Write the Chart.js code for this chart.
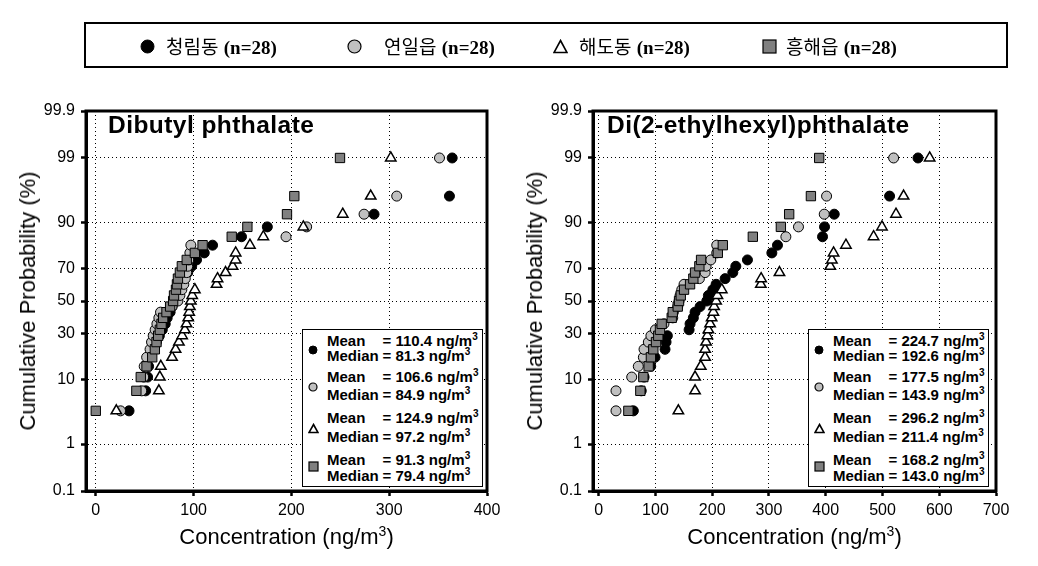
<!DOCTYPE html>
<html lang="ko">
<head>
<meta charset="utf-8">
<title>Phthalate cumulative probability plots</title>
<script src="https://cdn.jsdelivr.net/npm/chart.js@4.4.1/dist/chart.umd.min.js"></script>
<style>
  html, body { margin:0; padding:0; background:#fff; }
  #wrap { position:relative; width:1038px; height:566px; overflow:hidden; font-family: Arial, "Liberation Sans", sans-serif; color:#000; }
  #wrap canvas { position:absolute; top:0; }
  .abs { position:absolute; white-space:nowrap; }
  .legbox { left:84px; top:22px; width:924px; height:46px; border:2.5px solid #000; box-sizing:border-box; }
  .legtxt { font-family:"Noto Sans CJK KR", sans-serif; font-size:19px; line-height:24px; top:34px; }
  .legtxt b { font-family:"Liberation Serif", "Times New Roman", serif; font-weight:bold; font-size:19px; }
  .ptitle { font-weight:bold; font-size:24.5px; line-height:24.5px; letter-spacing:0.45px; top:112.6px; }
  .axtitle { font-size:22px; line-height:22px; }
  .stat { border:1.5px solid #000; background:#fff; box-sizing:border-box; }
  .sline { font-weight:bold; font-size:15px; line-height:16px; }
  .sline .lab { display:inline-block; width:55.5px; }
  .sup { position:relative; top:-6px; font-size:10px; }
</style>
</head>
<body>
<div id="wrap">
  <canvas id="cDBP" width="510" height="566" style="left:0;width:510px;height:566px"></canvas>
  <canvas id="cDEHP" width="528" height="566" style="left:510px;width:528px;height:566px"></canvas>
</div>
<script>
// ---------------- data ----------------
const seriesNames = ['청림동', '연일읍', '해도동', '흥해읍'];
const sampleN = [28, 28, 28, 28];
// cumulative probability (%) plotting positions, rank 1..28
const probLevels = [3.7, 7.2, 10.8, 14.4, 18.0, 21.6, 25.2, 28.6, 32.0, 35.5, 39.2, 42.8, 46.4, 50.0,
                    53.6, 57.3, 60.7, 64.2, 67.8, 71.4, 74.8, 78.3, 81.8, 85.2, 88.6, 92.1, 95.6, 99.0];

// Dibutyl phthalate concentrations (ng/m3), sorted
const dbpCheongrim = [34, 51, 53, 54, 56, 59, 62, 65, 68, 71, 73, 76, 78, 80, 83, 86, 88, 91, 94, 98, 103, 110.9, 119.4, 149, 175.4, 284.5, 361.6, 364.4];
const dbpYeonil    = [25.3, 47, 49, 49.5, 52, 55.5, 57, 58.7, 60.7, 62.5, 64.5, 66.2, 78, 84, 86, 88, 90, 91.5, 93, 94, 95, 96.2, 97.2, 194.5, 215.6, 274.3, 307.7, 351.4];
const dbpHaedo     = [21, 64.5, 65.5, 66.5, 78, 81.6, 85, 88.3, 91.1, 92.8, 94.5, 95.5, 96.2, 97.2, 98.6, 101.3, 123.5, 124.5, 132.7, 139.9, 143, 143, 157.6, 171.3, 212.2, 252.5, 281.1, 301.6];
const dbpHeunghae  = [0, 41.5, 46, 51.9, 57.7, 60.4, 62.1, 63.8, 65.5, 67.2, 68.9, 72.3, 76, 79.1, 80, 82, 83, 84, 86, 88, 93, 101.3, 109.2, 139, 155, 195.5, 203, 249.7];

// Di(2-ethylhexyl)phthalate concentrations (ng/m3), sorted
const dehpCheongrim = [61.1, 75, 80, 91.7, 99.3, 116.9, 118.7, 121, 159.3, 161, 166.8, 169.8, 178.7, 190.5, 193.3, 201.1, 206.9, 222.8, 236.3, 241.6, 262.1, 305.1, 315, 394.4, 397.9, 415, 512.5, 562.6];
const dehpYeonil    = [30.5, 30.5, 58.2, 69.8, 78.7, 79.9, 87.5, 92, 100, 115, 130.5, 131.6, 139.3, 141.6, 143.4, 146.4, 150.4, 177.4, 187.5, 189.2, 197.5, 208, 208, 329.8, 352, 397.4, 401.5, 519.6];
const dehpHaedo     = [140.4, 169.8, 169.8, 179.9, 187.5, 187.5, 189.2, 191.5, 193.3, 196.3, 199, 202.1, 203.4, 206.9, 209.2, 216.9, 285.7, 286.2, 318.5, 408, 410.9, 413.8, 435.6, 484.3, 499.1, 523.8, 537.2, 583.1];
const dehpHeunghae  = [52.3, 73.4, 78.7, 88, 92, 96.3, 101, 105, 108, 111, 128.7, 130.5, 139.3, 141.6, 144.6, 150.4, 161, 166.8, 169.8, 177.4, 180.4, 209.9, 218.7, 271.6, 321, 335.6, 373.9, 388.5];

// summary statistics (ng/m3)
const dbpMean    = [110.4, 106.6, 124.9, 91.3];
const dbpMedian  = [81.3, 84.9, 97.2, 79.4];
const dehpMean   = [224.7, 177.5, 296.2, 168.2];
const dehpMedian = [192.6, 143.9, 211.4, 143.0];

// axes
const yTickProbs  = [0.1, 1, 10, 30, 50, 70, 90, 99, 99.9];
const yTickLabels = ['0.1', '1', '10', '30', '50', '70', '90', '99', '99.9'];
const xTicksDBP   = [0, 100, 200, 300, 400];
const xTicksDEHP  = [0, 100, 200, 300, 400, 500, 600, 700];
const panelTitles = ['Dibutyl phthalate', 'Di(2-ethylhexyl)phthalate'];

// ---------------- helpers ----------------
function probit(p) { // inverse standard normal CDF (Acklam)
  const a = [-3.969683028665376e+01, 2.209460984245205e+02, -2.759285104469687e+02, 1.383577518672690e+02, -3.066479806614716e+01, 2.506628277459239e+00];
  const b = [-5.447609879822406e+01, 1.615858368580409e+02, -1.556989798598866e+02, 6.680131188771972e+01, -1.328068155288572e+01];
  const c = [-7.784894002430293e-03, -3.223964580411365e-01, -2.400758277161838e+00, -2.549732539343734e+00, 4.374664141464968e+00, 2.938163982698783e+00];
  const d = [7.784695709041462e-03, 3.224671290700398e-01, 2.445134137142996e+00, 3.754408661907416e+00];
  const pl = 0.02425, ph = 1 - pl;
  let q, r;
  if (p < pl) {
    q = Math.sqrt(-2 * Math.log(p));
    return (((((c[0]*q+c[1])*q+c[2])*q+c[3])*q+c[4])*q+c[5]) / ((((d[0]*q+d[1])*q+d[2])*q+d[3])*q+1);
  }
  if (p <= ph) {
    q = p - 0.5; r = q * q;
    return (((((a[0]*r+a[1])*r+a[2])*r+a[3])*r+a[4])*r+a[5])*q / (((((b[0]*r+b[1])*r+b[2])*r+b[3])*r+b[4])*r+1);
  }
  q = Math.sqrt(-2 * Math.log(1 - p));
  return -(((((c[0]*q+c[1])*q+c[2])*q+c[3])*q+c[4])*q+c[5]) / ((((d[0]*q+d[1])*q+d[2])*q+d[3])*q+1);
}
const zMin = probit(yTickProbs[0] / 100), zMax = probit(yTickProbs[yTickProbs.length - 1] / 100);

const styles = [
  { pointStyle: 'circle',   pointRadius: 5,   backgroundColor: '#000000', borderColor: '#000', borderWidth: 1,   order: 4 },
  { pointStyle: 'circle',   pointRadius: 5,   backgroundColor: '#c0c0c0', borderColor: '#000', borderWidth: 1,   order: 3 },
  { pointStyle: 'triangle', pointRadius: 6,   backgroundColor: '#ffffff', borderColor: '#000', borderWidth: 1.5, order: 2 },
  { pointStyle: 'rect',     pointRadius: 6.6, backgroundColor: '#808080', borderColor: '#000', borderWidth: 1,   order: 1 }
];

function makeDatasets(seriesList) {
  return seriesList.map((vals, i) => Object.assign({
    label: seriesNames[i],
    data: vals.map((x, k) => ({ x: x, y: probit(probLevels[k] / 100) })),
    showLine: false,
    pointHoverRadius: styles[i].pointRadius
  }, styles[i]));
}

const framePlugin = {
  id: 'frame',
  afterDraw(chart) {
    const { ctx, chartArea: { left, top, right, bottom } } = chart;
    ctx.save();
    ctx.lineWidth = 3;
    ctx.strokeStyle = '#000';
    ctx.strokeRect(left, top, right - left, bottom - top);
    ctx.restore();
  }
};

function makeChart(canvasId, seriesList, xMax, xTicks, yWidth, padRight) {
  const tickFont = { family: 'Arial, "Liberation Sans", sans-serif', size: 16 };
  return new Chart(document.getElementById(canvasId), {
    type: 'scatter',
    data: { datasets: makeDatasets(seriesList) },
    options: {
      responsive: false,
      animation: false,
      layout: { padding: { left: 0, right: padRight, top: 111, bottom: 0 } },
      plugins: { legend: { display: false }, tooltip: { enabled: false } },
      scales: {
        x: {
          type: 'linear', min: -10, max: xMax,
          afterBuildTicks: (s) => { s.ticks = xTicks.map(v => ({ value: v })); },
          afterFit: (s) => { s.height = 75; },
          ticks: { font: tickFont, color: '#000', padding: 5, autoSkip: false, maxRotation: 0,
                   callback: (v) => String(v) },
          grid: { color: '#000', lineWidth: 1, drawTicks: true, tickLength: 5, tickWidth: 2.5, tickColor: '#000' },
          border: { display: true, color: '#000', width: 3, dash: [1, 3] }
        },
        y: {
          type: 'linear', min: zMin, max: zMax,
          afterBuildTicks: (s) => { s.ticks = yTickProbs.map(p => ({ value: probit(p / 100) })); },
          afterFit: (s) => { s.width = yWidth; },
          ticks: { font: tickFont, color: '#000', padding: 6, autoSkip: false,
                   callback: (v, i) => yTickLabels[i] },
          grid: { color: '#000', lineWidth: 1, drawTicks: true, tickLength: 5, tickWidth: 2.5, tickColor: '#000' },
          border: { display: true, color: '#000', width: 3, dash: [1, 3] }
        }
      }
    },
    plugins: [framePlugin]
  });
}

makeChart('cDBP',  [dbpCheongrim, dbpYeonil, dbpHaedo, dbpHeunghae], 400, xTicksDBP, 86, 23);
makeChart('cDEHP', [dehpCheongrim, dehpYeonil, dehpHaedo, dehpHeunghae], 700, xTicksDEHP, 83, 42);

// ---------------- text overlays ----------------
const wrap = document.getElementById('wrap');
function el(html, cls, css) {
  const d = document.createElement('div');
  d.className = 'abs ' + (cls || '');
  d.innerHTML = html;
  Object.assign(d.style, css || {});
  wrap.appendChild(d);
  return d;
}
function markerSVG(i, size) {
  const s = size, h = s / 2;
  let shape;
  if (i === 0) shape = `<circle cx="${h}" cy="${h}" r="${h - 1}" fill="#000" stroke="#000" stroke-width="1"/>`;
  else if (i === 1) shape = `<circle cx="${h}" cy="${h}" r="${h - 1}" fill="#c0c0c0" stroke="#000" stroke-width="1.2"/>`;
  else if (i === 2) shape = `<polygon points="${h},1.5 ${s - 1},${s - 1.5} 1,${s - 1.5}" fill="#fff" stroke="#000" stroke-width="1.6"/>`;
  else shape = `<rect x="1" y="1" width="${s - 2}" height="${s - 2}" fill="#808080" stroke="#000" stroke-width="1.2"/>`;
  return `<svg width="${s}" height="${s}" viewBox="0 0 ${s} ${s}" style="display:block">${shape}</svg>`;
}

// legend
el('', 'legbox');
const legMarkerX = [147, 354, 560, 769];
const legTextX = [166, 384, 579, 786];
seriesNames.forEach((name, i) => {
  const sz = 15;
  el(markerSVG(i, sz), '', { left: (legMarkerX[i] - sz / 2) + 'px', top: (46 - sz / 2) + 'px' });
  el(`${name} <b>(n=${sampleN[i]})</b>`, 'legtxt', { left: legTextX[i] + 'px' });
});

// panel titles
el(panelTitles[0], 'ptitle', { left: '108px' });
el(panelTitles[1], 'ptitle', { left: '607px' });

// axis titles
[28, 535].forEach(cx => {
  el('Cumulative Probability (%)', 'axtitle', { left: cx + 'px', top: '301px', transform: 'translate(-50%,-50%) rotate(-90deg)' });
});
[286.5, 794.5].forEach(cx => {
  el('Concentration (ng/m<span class="sup" style="font-size:14px;top:-8px">3</span>)', 'axtitle',
     { left: cx + 'px', top: '526.4px', transform: 'translateX(-50%)' });
});

// statistics boxes
const lineCenters = [340.5, 356.3, 377, 395, 418.3, 436.7, 459.5, 476.3];
const markerY = [350, 386.7, 428.3, 466.7];
function statsBox(left, means, medians) {
  el('', 'stat', { left: left + 'px', top: '329px', width: '181px', height: '158px' });
  for (let i = 0; i < 4; i++) {
    const ms = [8, 8, 9, 9][i];
    el(markerSVG(i, ms + 2), '', { left: (left + 11 - (ms + 2) / 2) + 'px', top: (markerY[i] - (ms + 2) / 2) + 'px' });
    el(`<span class="lab">Mean</span>= ${means[i].toFixed(1)} ng/m<span class="sup">3</span>`, 'sline',
       { left: (left + 25) + 'px', top: (lineCenters[2 * i] - 8) + 'px' });
    el(`<span class="lab">Median</span>= ${medians[i].toFixed(1)} ng/m<span class="sup">3</span>`, 'sline',
       { left: (left + 25) + 'px', top: (lineCenters[2 * i + 1] - 8) + 'px' });
  }
}
statsBox(302, dbpMean, dbpMedian);
statsBox(808, dehpMean, dehpMedian);
</script>
</body>
</html>
